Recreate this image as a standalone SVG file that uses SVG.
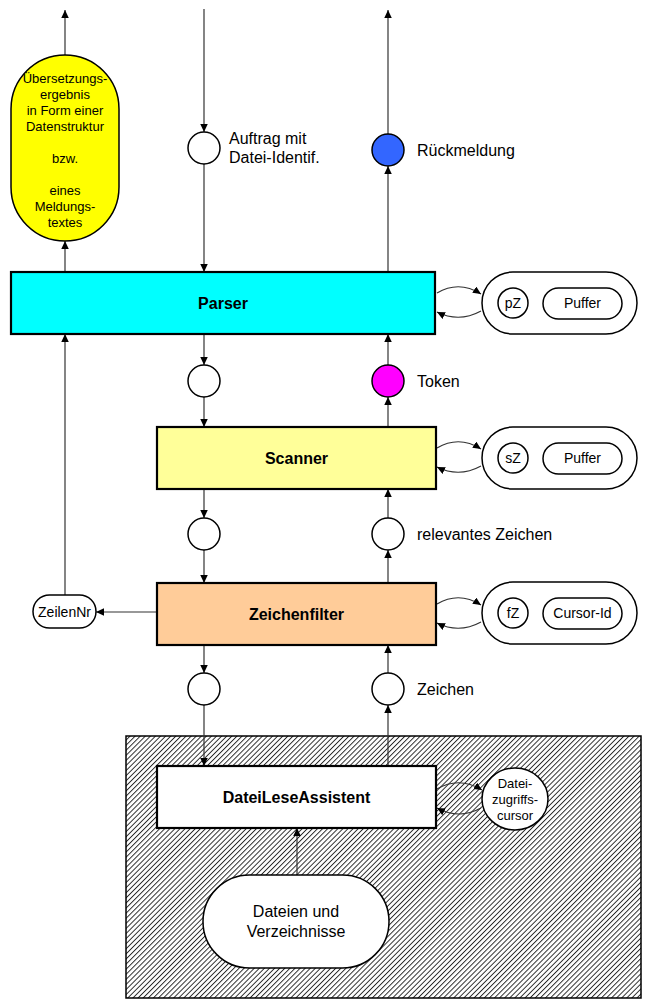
<svg xmlns="http://www.w3.org/2000/svg" width="645" height="1003" viewBox="0 0 645 1003">
  <style>
    text { font-family: "Liberation Sans", Arial, sans-serif; fill: #000; }
    .lbl { font-size: 16px; }
    .box-title { font-size: 16px; font-weight: bold; text-anchor: middle; }
    .small { font-size: 14px; text-anchor: middle; }
    .tiny { font-size: 13px; text-anchor: middle; }
    .box { stroke: #000; stroke-width: 2.2; }
    .shape { fill: #fff; stroke: #000; stroke-width: 1.5; }
    .flow { fill: none; stroke: #333; stroke-width: 1.2; marker-end: url(#arrow); }
  </style>
  <defs>
    <marker id="arrow" markerUnits="userSpaceOnUse" markerWidth="8" markerHeight="8" refX="8" refY="3.75" orient="auto">
      <path d="M0,0 L8,3.75 L0,7.5 z" fill="#000"/>
    </marker>
    <pattern id="hatch" patternUnits="userSpaceOnUse" width="3.6" height="10" patternTransform="rotate(45)">
      <rect width="3.6" height="10" fill="#fff"/>
      <line x1="0.5" y1="0" x2="0.5" y2="10" stroke="#000" stroke-width="0.85"/>
    </pattern>
  </defs>

  <!-- file system area -->
  <g id="dateisystem">
    <rect x="126" y="736" width="515" height="262" fill="url(#hatch)" stroke="#000" stroke-width="1.5"/>
  </g>

  <!-- connectors -->
  <g id="connectors">
    <!-- top outputs / inputs -->
    <line class="flow" x1="65" y1="55" x2="65" y2="10"/>
    <line class="flow" x1="65" y1="272" x2="65" y2="241"/>
    <line class="flow" x1="204" y1="9" x2="204" y2="132"/>
    <line class="flow" x1="204" y1="164" x2="204" y2="272"/>
    <line class="flow" x1="388" y1="134" x2="388" y2="10"/>
    <line class="flow" x1="388" y1="272" x2="388" y2="166"/>
    <!-- parser <-> scanner -->
    <line class="flow" x1="204" y1="334" x2="204" y2="365"/>
    <line class="flow" x1="204" y1="397" x2="204" y2="427"/>
    <line class="flow" x1="388" y1="365" x2="388" y2="334"/>
    <line class="flow" x1="388" y1="427" x2="388" y2="397"/>
    <!-- scanner <-> zeichenfilter -->
    <line class="flow" x1="204" y1="489" x2="204" y2="518"/>
    <line class="flow" x1="204" y1="550" x2="204" y2="583"/>
    <line class="flow" x1="388" y1="518" x2="388" y2="489"/>
    <line class="flow" x1="388" y1="583" x2="388" y2="550"/>
    <!-- zeichenfilter <-> datei-lese-assistent -->
    <line class="flow" x1="204" y1="645" x2="204" y2="673"/>
    <line class="flow" x1="204" y1="705" x2="204" y2="766"/>
    <line class="flow" x1="388" y1="673" x2="388" y2="645"/>
    <line class="flow" x1="388" y1="766" x2="388" y2="705"/>
    <!-- line numbers -->
    <line class="flow" x1="157" y1="612" x2="96" y2="612"/>
    <line class="flow" x1="65" y1="595" x2="65" y2="334"/>
    <!-- files to reader -->
    <line class="flow" x1="297" y1="875" x2="297" y2="828"/>
    <!-- state loops -->
    <path class="flow" d="M437,293 Q459,280 481,294"/>
    <path class="flow" d="M481,311 Q459,323 437,312"/>
    <path class="flow" d="M437,448 Q459,435 481,449"/>
    <path class="flow" d="M481,466 Q459,478 437,467"/>
    <path class="flow" d="M437,604 Q459,591 481,605"/>
    <path class="flow" d="M481,622 Q459,634 437,623"/>
    <path class="flow" d="M437,789 Q459,776 482,790"/>
    <path class="flow" d="M481,808 Q459,820 437,808"/>
  </g>

  <!-- result -->
  <g id="ergebnis">
    <rect x="11" y="55" width="108" height="186" rx="54" ry="54" fill="#ffff00" stroke="#000" stroke-width="1.5"/>
    <text class="tiny" x="65" y="83">Übersetzungs-</text>
    <text class="tiny" x="65" y="99">ergebnis</text>
    <text class="tiny" x="65" y="115">in Form einer</text>
    <text class="tiny" x="65" y="131">Datenstruktur</text>
    <text class="tiny" x="65" y="163">bzw.</text>
    <text class="tiny" x="65" y="195">eines</text>
    <text class="tiny" x="65" y="211">Meldungs-</text>
    <text class="tiny" x="65" y="227">textes</text>
  </g>

  <g id="auftrag">
    <circle class="shape" cx="204" cy="148" r="16"/>
    <text class="lbl" x="229" y="144">Auftrag mit</text>
    <text class="lbl" x="229" y="163">Datei-Identif.</text>
  </g>

  <g id="rueckmeldung">
    <circle class="shape" cx="388" cy="150" r="16" style="fill:#3366ff"/>
    <text class="lbl" x="417" y="156">Rückmeldung</text>
  </g>

  <g id="parser">
    <rect class="box" x="11" y="272" width="424" height="62" fill="#00ffff"/>
    <text class="box-title" x="223" y="309">Parser</text>
  </g>

  <g id="parser-zustand">
    <rect class="shape" x="482" y="272" width="155" height="62" rx="31"/>
    <circle class="shape" cx="513" cy="303" r="15"/>
    <text class="small" x="513" y="308">pZ</text>
    <rect class="shape" x="543" y="288" width="79" height="31" rx="15.5"/>
    <text class="small" x="582.5" y="308">Puffer</text>
  </g>

  <g id="anforderung-scanner">
    <circle class="shape" cx="204" cy="381" r="16"/>
  </g>

  <g id="token">
    <circle class="shape" cx="388" cy="381" r="16" style="fill:#ff00ff"/>
    <text class="lbl" x="417" y="387">Token</text>
  </g>

  <g id="scanner">
    <rect class="box" x="157" y="427" width="279" height="62" fill="#ffff99"/>
    <text class="box-title" x="296.5" y="464">Scanner</text>
  </g>

  <g id="scanner-zustand">
    <rect class="shape" x="482" y="427" width="155" height="62" rx="31"/>
    <circle class="shape" cx="513" cy="458" r="15"/>
    <text class="small" x="513" y="463">sZ</text>
    <rect class="shape" x="543" y="443" width="79" height="31" rx="15.5"/>
    <text class="small" x="582.5" y="463">Puffer</text>
  </g>

  <g id="anforderung-filter">
    <circle class="shape" cx="204" cy="534" r="16"/>
  </g>

  <g id="relevantes-zeichen">
    <circle class="shape" cx="388" cy="534" r="16"/>
    <text class="lbl" x="417" y="540">relevantes Zeichen</text>
  </g>

  <g id="zeichenfilter">
    <rect class="box" x="157" y="583" width="279" height="62" fill="#ffcc99"/>
    <text class="box-title" x="296.5" y="620">Zeichenfilter</text>
  </g>

  <g id="filter-zustand">
    <rect class="shape" x="482" y="582" width="155" height="62" rx="31"/>
    <circle class="shape" cx="513" cy="613" r="15"/>
    <text class="small" x="513" y="618">fZ</text>
    <rect class="shape" x="543" y="598" width="79" height="31" rx="15.5"/>
    <text class="small" x="582.5" y="618">Cursor-Id</text>
  </g>

  <g id="zeilennr">
    <rect class="shape" x="33" y="595" width="63" height="33" rx="16.5"/>
    <text class="small" x="64.5" y="616.5">ZeilenNr</text>
  </g>

  <g id="anforderung-zeichen">
    <circle class="shape" cx="204" cy="689" r="16"/>
  </g>

  <g id="zeichen">
    <circle class="shape" cx="388" cy="689" r="16"/>
    <text class="lbl" x="417" y="695">Zeichen</text>
  </g>

  <g id="datei-lese-assistent">
    <rect class="box" x="157" y="766" width="279" height="62" fill="#fff"/>
    <text class="box-title" x="296.5" y="803">DateiLeseAssistent</text>
  </g>

  <g id="dateizugriffscursor">
    <ellipse class="shape" cx="515" cy="799" rx="33" ry="31"/>
    <text class="tiny" x="515" y="788">Datei-</text>
    <text class="tiny" x="515" y="804">zugriffs-</text>
    <text class="tiny" x="515" y="820">cursor</text>
  </g>

  <g id="dateien">
    <rect class="shape" x="203" y="875" width="186" height="93" rx="46.5"/>
    <text class="lbl" x="296" y="917" text-anchor="middle">Dateien und</text>
    <text class="lbl" x="296" y="937" text-anchor="middle">Verzeichnisse</text>
  </g>
</svg>
